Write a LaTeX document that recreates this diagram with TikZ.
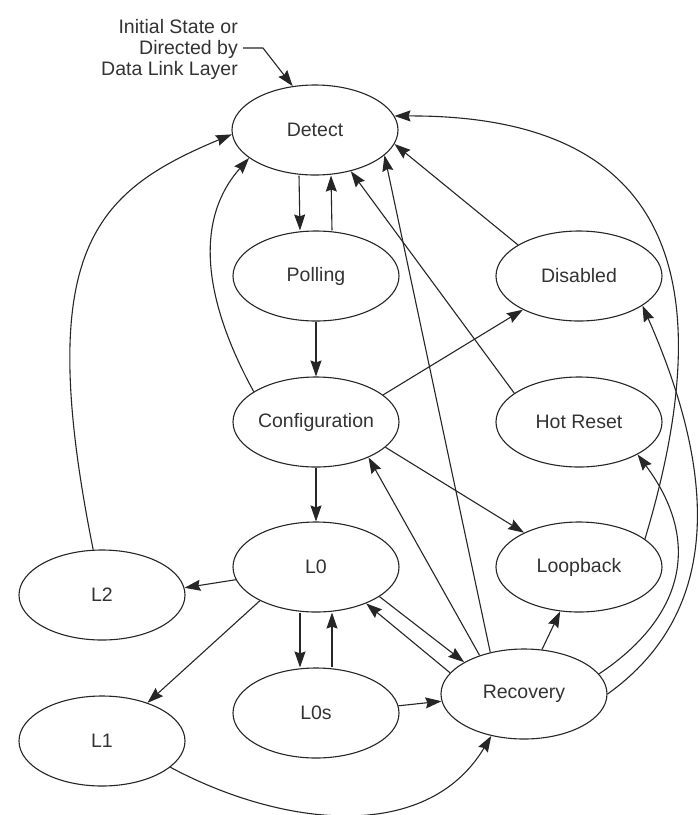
\documentclass[tikz,border=0pt]{standalone}
\usepackage{fontspec}
\setmainfont{Liberation Sans}
\usetikzlibrary{shapes.geometric,arrows.meta,calc}
\begin{document}
\begin{tikzpicture}[x=1pt,y=-1pt,
  state/.style={ellipse,draw=black!85,line width=1.1pt,minimum width=166pt,minimum height=90pt,inner sep=0pt,font=\fontsize{19.5}{21}\selectfont,text=black!80},
  ln/.style={line width=1.1pt,draw=black!85},
  arr/.style={ln,-{Stealth[length=16pt,width=11pt,inset=2pt]}},
  lbl/.style={font=\fontsize{19.5}{21}\selectfont,text=black!80,align=right,inner sep=0pt}]
\fill[white] (0,0) rectangle (700,815);
\useasboundingbox (0,0) rectangle (700,815);

\node[state] (Detect) at (315,130) {Detect};
\node[state] (Polling) at (316,276) {Polling};
\node[state] (Disabled) at (579,276) {Disabled};
\node[state] (Config) at (316,422) {Configuration};
\node[state] (HotReset) at (579,422) {Hot Reset};
\node[state] (L0) at (316,567) {L0};
\node[state] (Loopback) at (579,567) {Loopback};
\node[state] (L2) at (102,595) {L2};
\node[state] (L0s) at (316,713) {L0s};
\node[state] (Recovery) at (524,694) {Recovery};
\node[state] (L1) at (102,741) {L1};

\node[lbl,anchor=east] (init) at (238,49) {Initial State or\\Directed by\\Data Link Layer};
\coordinate (initbend) at (263,48);
\draw[arr] ($(init.east |- initbend)+(5,0)$) -- (initbend) -- (Detect.117);

% vertical pairs
\draw[arr] ([xshift=-16pt]Detect.south) -- ([xshift=-16pt]Polling.north);
\draw[arr] ([xshift=16pt]Polling.north) -- ([xshift=16pt]Detect.south);
\draw[arr] (Polling.south) -- (Config.north);
\draw[arr] (Config.south) -- (L0.north);
\draw[arr] ([xshift=-16pt]L0.south) -- ([xshift=-16pt]L0s.north);
\draw[arr] ([xshift=16pt]L0s.north) -- ([xshift=16pt]L0.south);

% into Detect
\draw[arr] (Config.154) .. controls (210,312) and (189,226) .. (Detect.203);
\draw[arr] (L2.101) .. controls (33,250) and (94,192) .. (Detect.183);
\draw[arr] (Disabled.153) -- (Detect.-10);
\draw[arr] (HotReset.156) -- (Detect.-49);
\draw[arr] (Recovery.129) -- (Detect.-20);
\draw[arr] (Loopback.23) .. controls (732,250) and (648,115) .. (Detect.10);

% from Configuration
\draw[arr] (Config.22) -- (Disabled.211);
\draw[arr] (Config.-20) -- (Loopback.148);

% from Recovery
\draw[arr] (Recovery.139) -- (Config.-34);
\draw[arr] (Recovery.68) -- (Loopback.-113);
\draw[arr] (Recovery.15) .. controls (680,620) and (705,545) .. (HotReset.-29);
\draw[arr] (Recovery.0) .. controls (725,610) and (715,470) .. (Disabled.-25);
\draw[arr] (Recovery.164) -- (L0.-36);

% from L0 and others
\draw[arr] (L0.-25) -- (Recovery.152);
\draw[arr] (L0.189) -- (L2.5);
\draw[arr] (L0.211) -- (L1.40);
\draw[arr] (L0s.5) -- (Recovery.185);
\draw[arr] (L1.-21) .. controls (280,826) and (426,845) .. (Recovery.232);
\end{tikzpicture}
\end{document}
